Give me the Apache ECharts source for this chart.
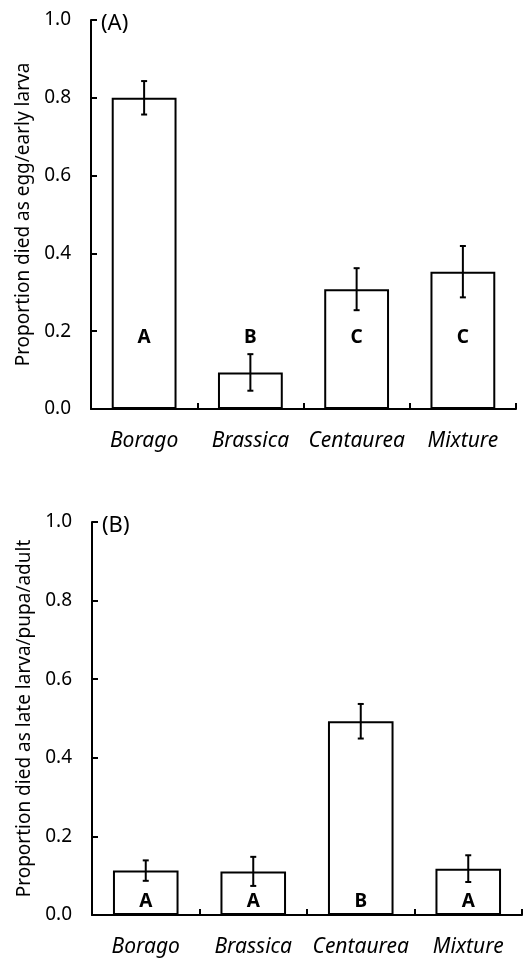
<!DOCTYPE html>
<html>
<head>
<meta charset="utf-8">
<script src="https://cdn.jsdelivr.net/npm/echarts@6/dist/echarts.min.js"></script>
<style>
  html, body { margin: 0; padding: 0; background: #fff; }
  #chart { width: 524px; height: 960px; }
</style>
</head>
<body>
<div id="chart"></div>
<script>
const categories = ['Borago', 'Brassica', 'Centaurea', 'Mixture'];
const yTicks = [0.0, 0.2, 0.4, 0.6, 0.8, 1.0];

// (A) died as egg / early larva
const meanA = [0.80, 0.094, 0.308, 0.353];
const errA = [0.043, 0.047, 0.054, 0.066];
const lettersA = ['A', 'B', 'C', 'C'];

// (B) died as late larva / pupa / adult
const meanB = [0.113, 0.111, 0.493, 0.118];
const errB = [0.026, 0.037, 0.044, 0.034];
const lettersB = ['A', 'A', 'B', 'A'];

const FONT = 'Noto Sans';
const yMax = yTicks[yTicks.length - 1];
const yStep = yTicks[1] - yTicks[0];

function xAxisFor(gridIndex) {
  return {
    type: 'category',
    gridIndex: gridIndex,
    data: categories,
    boundaryGap: true,
    axisLine: { show: true, lineStyle: { color: '#000', width: 2 } },
    axisTick: { show: true, inside: true, length: 6, lineStyle: { color: '#000', width: 2 } },
    axisLabel: {
      interval: 0, color: '#000', fontFamily: FONT, fontSize: 21,
      fontStyle: 'italic', margin: 22, hideOverlap: false
    },
    splitLine: { show: false }
  };
}

function yAxisFor(gridIndex, name) {
  return {
    type: 'value',
    gridIndex: gridIndex,
    min: 0,
    max: yMax,
    interval: yStep,
    name: name,
    nameLocation: 'middle',
    nameGap: 58,
    nameTextStyle: { color: '#000', fontFamily: FONT, fontSize: 19 },
    axisLine: { show: true, lineStyle: { color: '#000', width: 2 } },
    axisTick: { show: true, inside: true, length: 6, lineStyle: { color: '#000', width: 2 } },
    axisLabel: {
      color: '#000', fontFamily: FONT, fontSize: 19, margin: 20,
      formatter: v => v.toFixed(1)
    },
    splitLine: { show: false }
  };
}

function errorBars(idx, means, errs) {
  return {
    type: 'custom',
    xAxisIndex: idx,
    yAxisIndex: idx,
    z: 5,
    data: means.map((m, i) => [i, m, errs[i]]),
    renderItem: function (params, api) {
      const i = api.value(0), m = api.value(1), e = api.value(2);
      const hi = api.coord([i, m + e]);
      const lo = api.coord([i, m - e]);
      const cap = 3;
      const style = { stroke: '#000', lineWidth: 2 };
      return {
        type: 'group',
        children: [
          { type: 'line', shape: { x1: hi[0], y1: hi[1], x2: lo[0], y2: lo[1] }, style: style },
          { type: 'line', shape: { x1: hi[0] - cap, y1: hi[1], x2: hi[0] + cap, y2: hi[1] }, style: style },
          { type: 'line', shape: { x1: lo[0] - cap, y1: lo[1], x2: lo[0] + cap, y2: lo[1] }, style: style }
        ]
      };
    }
  };
}

function letterMarks(idx, letters, yPos) {
  return {
    type: 'custom',
    xAxisIndex: idx,
    yAxisIndex: idx,
    z: 6,
    data: letters.map((l, i) => [i, yPos]),
    renderItem: function (params, api) {
      const p = api.coord([api.value(0), api.value(1)]);
      return {
        type: 'text',
        x: p[0],
        y: p[1],
        style: {
          text: letters[params.dataIndex],
          fill: '#000',
          font: 'bold 19px "' + FONT + '"',
          align: 'center',
          verticalAlign: 'middle'
        }
      };
    }
  };
}

function bars(idx, means) {
  return {
    type: 'bar',
    xAxisIndex: idx,
    yAxisIndex: idx,
    barWidth: '61%',
    data: means,
    itemStyle: { color: '#fff', borderColor: '#000', borderWidth: 2 },
    emphasis: { disabled: true }
  };
}

const myChart = echarts.init(document.getElementById('chart'), null, { renderer: 'canvas' });
const option = {
  animation: false,
  backgroundColor: '#fff',
  title: [
    { text: '(A)', left: 96, top: 8, textStyle: { fontFamily: FONT, fontSize: 22, fontWeight: 'normal', color: '#000' } },
    { text: '(B)', left: 97, top: 510, textStyle: { fontFamily: FONT, fontSize: 22, fontWeight: 'normal', color: '#000' } }
  ],
  grid: [
    { left: 91, top: 20, width: 425, height: 389 },
    { left: 92, top: 522, width: 430, height: 393 }
  ],
  xAxis: [xAxisFor(0), xAxisFor(1)],
  yAxis: [
    yAxisFor(0, 'Proportion died as egg/early larva'),
    yAxisFor(1, 'Proportion died as late larva/pupa/adult')
  ],
  series: [
    bars(0, meanA),
    errorBars(0, meanA, errA),
    letterMarks(0, lettersA, 0.183),
    bars(1, meanB),
    errorBars(1, meanB, errB),
    letterMarks(1, lettersB, 0.033)
  ]
};
myChart.setOption(option);
</script>
</body>
</html>
